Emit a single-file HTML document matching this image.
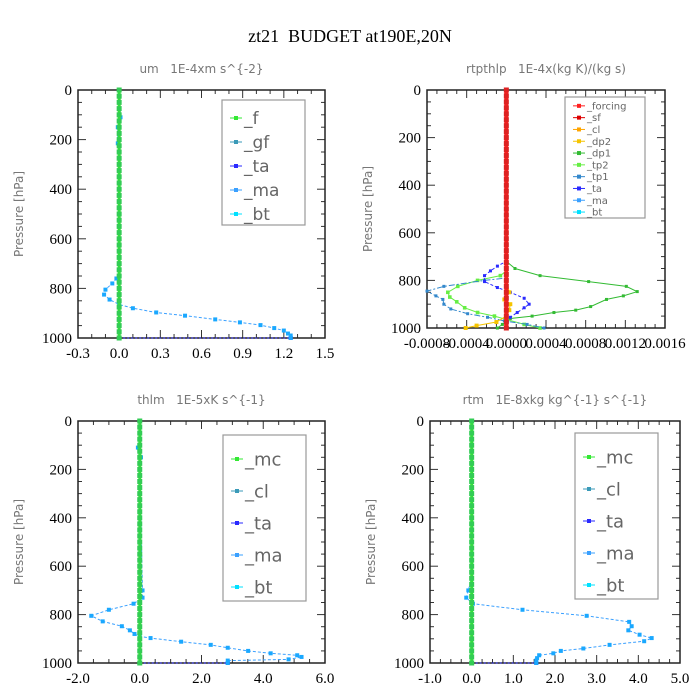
<!DOCTYPE html>
<html><head><meta charset="utf-8"><style>
body{margin:0;background:#fff;width:700px;height:700px;overflow:hidden}
svg{display:block}
text{white-space:pre}
.tk{font-family:"Liberation Serif",serif;font-size:15px;fill:#000}
.sub{font-family:"DejaVu Sans","Liberation Sans",sans-serif;font-size:12px;fill:#777}
.leg{font-family:"DejaVu Sans","Liberation Sans",sans-serif;fill:#666}
</style></head><body>
<svg id="chart" width="700" height="700" xmlns="http://www.w3.org/2000/svg" xml:space="preserve">
<text x="350" y="42" text-anchor="middle" font-family="Liberation Serif, serif" font-size="18">zt21  BUDGET at190E,20N</text>
</svg>
<script>
// shared pressure levels for near-zero series
const levels = [0,25,50,75,100,125,150,175,200,225,250,275,300,325,350,375,400,425,450,475,500,525,550,575,600,625,650,675,700,725,750,775,800,825,850,875,900,925,950,975,1000];
const zeros  = [0,0,0,0,0,0,0,0,0,0,0,0,0,0,0,0,0,0,0,0,0,0,0,0,0,0,0,0,0,0,0,0,0,0,0,0,0,0,0,0,0];

// panel 1: um
const umP   = [0,110,150,215,300,500,700,750,760,780,805,825,845,865,880,897,910,925,937,948,960,970,982,990,1000];
const umTa  = [0,0.01,-0.01,-0.01,0,0,0,0,-0.02,-0.05,-0.1,-0.11,-0.07,0,0.1,0.27,0.48,0.7,0.88,1.03,1.13,1.2,1.23,1.25,1.25];
const umXTicks = [-0.3,0.0,0.3,0.6,0.9,1.2,1.5];
const umXLabels = ["-0.3","0.0","0.3","0.6","0.9","1.2","1.5"];

// panel 2: rtpthlp
const dp1P = [0,700,720,750,780,805,825,847,865,880,910,925,935,950,960,970,985,1000];
const dp1V = [0,0,0,0.000087,0.00034,0.00083,0.00121,0.00132,0.00118,0.00101,0.00085,0.0007,0.00048,0.00026,0.00004,0.00001,-0.00004,-0.00009];
const tp2P = [0,740,760,780,800,825,850,870,890,915,935,950,965,985,1000];
const tp2V = [0,0,0,-0.00006,-0.00029,-0.00049,-0.00059,-0.00057,-0.0005,-0.00042,-0.00029,-0.00012,0.00001,0.00018,0.00034];
const tp1P = [0,770,790,800,825,845,865,880,900,920,940,955,970,985,1000];
const tp1V = [0,0,0,-0.00022,-0.00063,-0.0008,-0.00071,-0.00064,-0.00063,-0.00056,-0.00039,-0.00019,-0.00002,0.00021,0.00038];
const taP  = [0,700,720,740,760,780,805,830,850,875,900,915,935,955,975,1000];
const taV  = [0,0,0,-0.00009,-0.00016,-0.00022,-0.00022,-0.00009,0.00004,0.00018,0.00023,0.00018,0.00011,0.00004,0.00001,0];
const dp2P = [0,800,850,880,900,925,950,975,990,1000];
const dp2V = [0,0,0.00003,-0.00002,0.00004,0.00003,0,-0.0001,-0.0003,-0.00041];
const rtXTicks = [-0.0008,-0.0004,0.0,0.0004,0.0008,0.0012,0.0016];
const rtXLabels = ["-0.0008","-0.0004","0.0000","0.0004","0.0008","0.0012","0.0016"];

// panel 3: thlm
const thP = [0,100,110,150,200,700,730,755,780,805,828,848,865,880,890,897,912,925,937,950,960,968,975,985,990,1000];
const thV = [0,0,-0.06,0.04,0,0.09,0.09,-0.2,-1.0,-1.57,-1.2,-0.58,-0.32,-0.17,0,0.35,1.34,2.3,2.85,3.51,4.24,5.1,5.24,4.82,2.85,2.85];
const thXTicks = [-2,0,2,4,6];
const thXLabels = ["-2.0","0.0","2.0","4.0","6.0"];

// panel 4: rtm
const rtmP = [0,650,700,730,755,780,805,830,848,865,883,897,910,925,940,950,960,968,980,990,1000];
const rtmV = [0,0,-0.08,-0.13,0.03,1.22,2.76,3.78,3.84,3.76,4.03,4.32,4.14,3.31,2.68,2.14,1.96,1.62,1.57,1.55,1.55];
const rtmXTicks = [-1,0,1,2,3,4,5];
const rtmXLabels = ["-1.0","0.0","1.0","2.0","3.0","4.0","5.0"];

const yTicks = [0,200,400,600,800,1000];
const yLabels = ["0","200","400","600","800","1000"];

const NS="http://www.w3.org/2000/svg";
const svg=document.getElementById('chart');
function mk(tag,attrs,parent){const e=document.createElementNS(NS,tag);for(const k in attrs)e.setAttribute(k,attrs[k]);(parent||svg).appendChild(e);return e;}

function panel(g){
  const grp=mk('g',{});
  
  
  const sx=v=>g.l+(v-g.xmin)/(g.xmax-g.xmin)*(g.r-g.l);
  const sy=p=>g.t+p/1000*(g.b-g.t);
  g.sx=sx;g.sy=sy;
  const st=mk('text',{x:(g.l+g.r)/2,y:g.t-17,'text-anchor':'middle',class:'sub'},grp);st.textContent=g.title;
  
  
  const yt=mk('text',{x:0,y:0,'text-anchor':'middle',class:'sub','font-size':'13',transform:`translate(${g.l-55},${(g.t+g.b)/2}) rotate(-90)`},grp);
  yt.textContent='Pressure [hPa]';
  
  
  for(let p=0;p<=1000;p+=50){const major=p%200===0;const len=major?8:4;
    mk('line',{x1:g.l,x2:g.l+len,y1:sy(p),y2:sy(p),stroke:'#333','stroke-width':1},grp);
    mk('line',{x1:g.r,x2:g.r-len,y1:sy(p),y2:sy(p),stroke:'#333','stroke-width':1},grp);}
  yTicks.forEach((p,i)=>{const t=mk('text',{x:g.l-6,y:sy(p)+5,'text-anchor':'end',class:'tk'},grp);t.textContent=yLabels[i];
    
    });
  const xt=g.xticks;const step=xt[1]-xt[0];
  for(let i=0;i<xt.length;i++){
    for(let k=0;k<g.minor&&i<xt.length-1;k++){const v=xt[i]+step*k/g.minor;const major=k===0;const len=major?8:4;
      mk('line',{x1:sx(v),x2:sx(v),y1:g.b,y2:g.b-len,stroke:'#333'},grp);mk('line',{x1:sx(v),x2:sx(v),y1:g.t,y2:g.t+len,stroke:'#333'},grp);}
    const t=mk('text',{x:sx(xt[i]),y:g.b+20,'text-anchor':'middle',class:'tk','font-size':g.xfs||15},grp);t.textContent=g.xlabels[i];
    
    
  }
  const fr=mk('rect',{x:g.l,y:g.t,width:g.r-g.l,height:g.b-g.t,fill:'none',stroke:'#222','stroke-width':1.5},grp);
  
  
  g.grp=grp;return g;
}
function series(g,ps,vs,color,opts){
  opts=opts||{};
  const pts=ps.map((p,i)=>g.sx(vs[i]).toFixed(1)+','+g.sy(p).toFixed(1)).join(' ');
  const pl=mk('polyline',{points:pts,fill:'none',stroke:color,'stroke-width':opts.w||1,'stroke-dasharray':opts.dash||''},g.grp);
  
  
  ps.forEach((p,i)=>{
    if(opts.skipZero && i===0) return;
    const x=g.sx(vs[i]),y=g.sy(p),s=opts.ms||2;
    const m=mk('rect',{x:x-s,y:y-s,width:2*s,height:2*s,fill:opts.mfill||color,stroke:'none'},g.grp);
    
    
  });
}
function legend(g,x,y,w,h,items,fs,gap){
  const lg=mk('g',{},g.grp);
  
  
  mk('rect',{x:x,y:y,width:w,height:h,fill:'#fff',stroke:'#999','stroke-width':1.2},lg);
  items.forEach((it,i)=>{const yy=y+gap*0.75+i*gap;
    mk('line',{x1:x+8,x2:x+20,y1:yy,y2:yy,stroke:it[1],'stroke-width':1},lg);
    mk('rect',{x:x+12,y:yy-2,width:4,height:4,fill:it[1]},lg);
    const t=mk('text',{x:x+22,y:yy+fs*0.35,class:'leg','font-size':fs},lg);t.textContent=it[0];
    
    });
}
const GREEN='#33e833',TEAL='#3a9ab8',BLUE='#2a2aff',LBLUE='#3aa0ff',CYAN='#00e0ff';

const p1=panel({name:'um-panel',title:'um   1E-4xm s^{-2}',l:78,r:325,t:90,b:338,xmin:-0.3,xmax:1.5,xticks:umXTicks,xlabels:umXLabels,minor:3});
series(p1,[1000,1000],[0,umTa[umTa.length-1]],BLUE,{dash:'2,2',name:'um-ta-bottom'});
series(p1,umP,umTa,LBLUE,{dash:'3,2',name:'um-ma-line',skipZero:true,mfill:'#1aa8ff'});
series(p1,levels,zeros,GREEN,{w:3,name:'um-f-line',ms:2.5,mfill:'#33cc55'});
legend(p1,222,100,83,125,[['_f',GREEN],['_gf',TEAL],['_ta',BLUE],['_ma',LBLUE],['_bt',CYAN]],17,24);

const p2=panel({name:'rtpthlp-panel',title:'rtpthlp   1E-4x(kg K)/(kg s)',l:427,r:665,t:90,b:328,xmin:-0.0008,xmax:0.0016,xticks:rtXTicks,xlabels:rtXLabels,minor:4,xfs:13});
series(p2,dp1P,dp1V,'#33bb33',{name:'rt-dp1-line',ms:1.5});
series(p2,tp2P,tp2V,'#66ee44',{name:'rt-tp2-line',ms:1.8});
series(p2,tp1P,tp1V,'#3388cc',{dash:'6,2,2,2',name:'rt-tp1-line',ms:1.5});
series(p2,taP,taV,BLUE,{dash:'3,2',name:'rt-ta-line',ms:1.5});
series(p2,dp2P,dp2V,'#f5c400',{name:'rt-dp2-line',ms:2});
series(p2,levels,zeros,'#ff2020',{w:4,name:'rt-forcing-line',ms:2.5,mfill:'#dd2222'});
legend(p2,565,97,80,121,[['_forcing','#ff2020'],['_sf','#dd0000'],['_cl','#ffa500'],['_dp2','#f5c400'],['_dp1','#33bb33'],['_tp2','#66ee44'],['_tp1','#3388cc'],['_ta',BLUE],['_ma',LBLUE],['_bt',CYAN]],10,11.8);

const p3=panel({name:'thlm-panel',title:'thlm   1E-5xK s^{-1}',l:78,r:325,t:421,b:663,xmin:-2,xmax:6,xticks:thXTicks,xlabels:thXLabels,minor:4});
series(p3,[1000,1000],[0,thV[thV.length-1]],BLUE,{dash:'2,2',name:'thlm-ta-bottom'});
series(p3,thP,thV,LBLUE,{dash:'3,2',name:'thlm-ma-line',skipZero:true,mfill:'#1aa8ff'});
series(p3,levels,zeros,GREEN,{w:3,name:'thlm-mc-line',ms:2.5,mfill:'#33cc55'});
legend(p3,223,435,83,166,[['_mc',GREEN],['_cl',TEAL],['_ta',BLUE],['_ma',LBLUE],['_bt',CYAN]],18,32);

const p4=panel({name:'rtm-panel',title:'rtm   1E-8xkg kg^{-1} s^{-1}',l:430,r:680,t:421,b:663,xmin:-1,xmax:5,xticks:rtmXTicks,xlabels:rtmXLabels,minor:4});
series(p4,[1000,1000],[0,rtmV[rtmV.length-1]],BLUE,{dash:'2,2',name:'rtm-ta-bottom'});
series(p4,rtmP,rtmV,LBLUE,{dash:'3,2',name:'rtm-ma-line',skipZero:true,mfill:'#1aa8ff'});
series(p4,levels,zeros,GREEN,{w:3,name:'rtm-mc-line',ms:2.5,mfill:'#33cc55'});
legend(p4,575,433,83,166,[['_mc',GREEN],['_cl',TEAL],['_ta',BLUE],['_ma',LBLUE],['_bt',CYAN]],18,32);
</script>
</body></html>
